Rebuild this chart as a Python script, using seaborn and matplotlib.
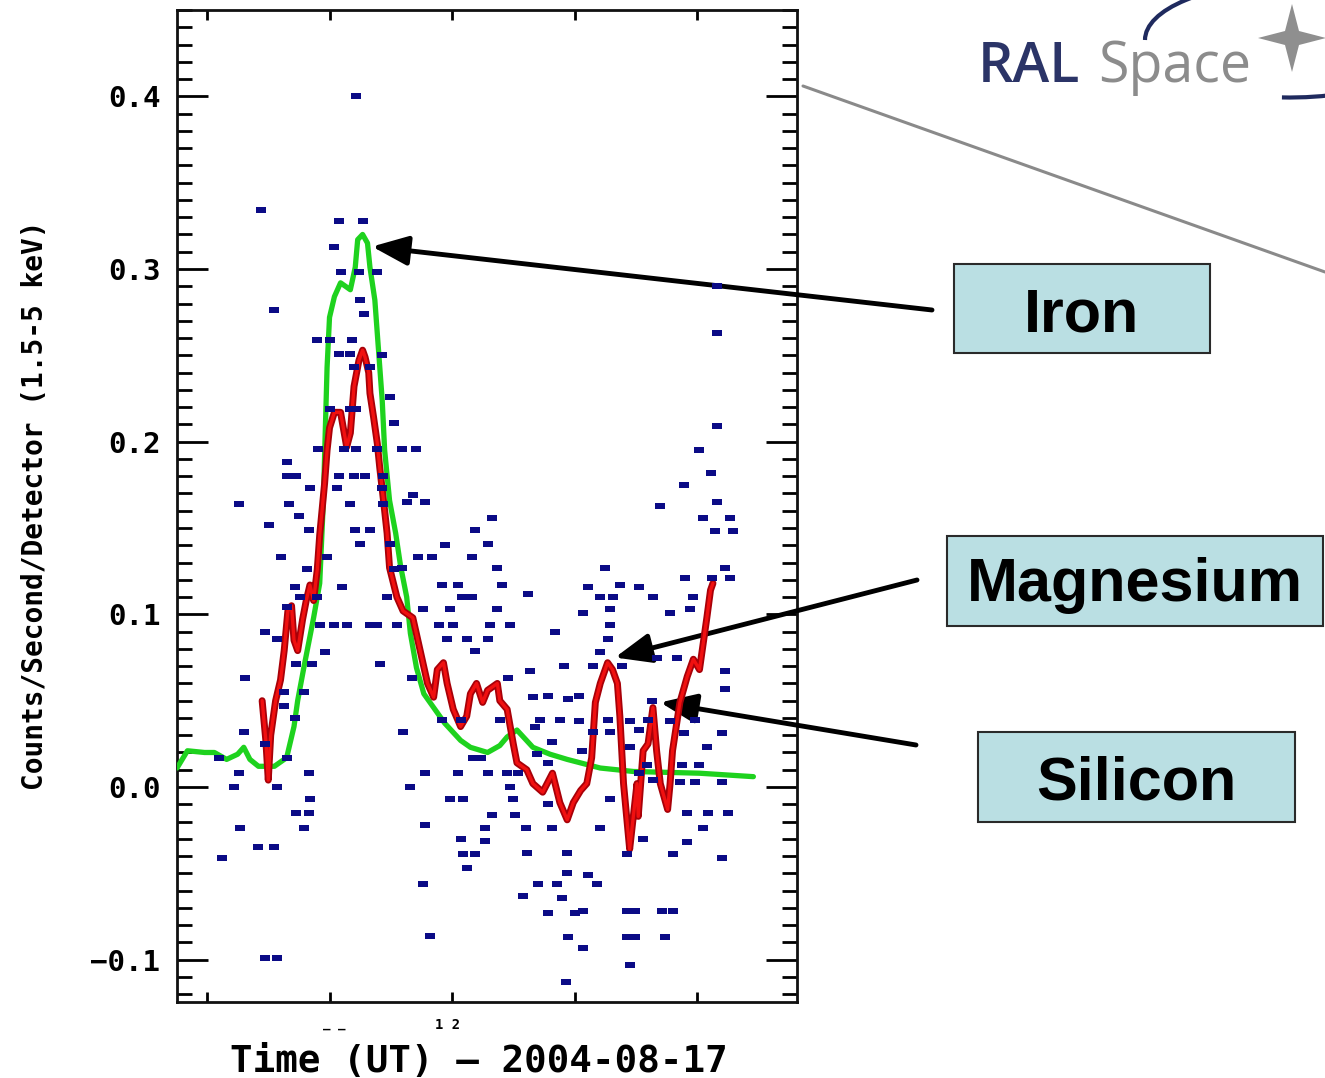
import matplotlib
matplotlib.use('Agg')
import matplotlib.pyplot as plt
import seaborn as sns
from matplotlib.patches import Rectangle, Arc, Polygon
from matplotlib.lines import Line2D
from matplotlib.ticker import MultipleLocator, FixedLocator, FixedFormatter
from matplotlib.transforms import IdentityTransform

# green curve (Iron), hours UT vs counts/s/detector
green_t = [9.755, 9.84, 9.98, 10.06, 10.16, 10.25, 10.30, 10.35, 10.42, 10.55,
           10.65, 10.71, 10.74, 10.79, 10.87, 10.92, 10.95, 10.965, 10.98, 11.00,
           11.04, 11.09, 11.13, 11.17, 11.21, 11.23, 11.27, 11.31, 11.33, 11.37,
           11.40, 11.43, 11.45, 11.49, 11.54, 11.58, 11.63, 11.66, 11.71, 11.77,
           11.94, 12.07, 12.15, 12.29, 12.39, 12.45, 12.53, 12.66, 12.80, 12.94,
           13.21, 13.48, 14.02, 14.46]
green_rate = [0.011, 0.021, 0.020, 0.020, 0.016, 0.019, 0.023, 0.016, 0.012, 0.012,
              0.017, 0.035, 0.050, 0.069, 0.098, 0.118, 0.166, 0.205, 0.243, 0.272,
              0.284, 0.292, 0.290, 0.288, 0.301, 0.317, 0.320, 0.315, 0.301, 0.282,
              0.253, 0.224, 0.195, 0.166, 0.147, 0.128, 0.110, 0.089, 0.069, 0.054,
              0.037, 0.027, 0.023, 0.020, 0.024, 0.029, 0.033, 0.023, 0.019, 0.016,
              0.011, 0.009, 0.008, 0.006]

# red curve
red_t = [10.45, 10.48, 10.50, 10.52, 10.56, 10.60, 10.63, 10.66, 10.69, 10.71,
         10.74, 10.78, 10.81, 10.84, 10.87, 10.90, 10.92, 10.96, 10.98, 11.00,
         11.04, 11.09, 11.12, 11.14, 11.17, 11.20, 11.24, 11.27, 11.29, 11.32,
         11.33, 11.36, 11.39, 11.41, 11.45, 11.47, 11.49, 11.55, 11.60, 11.68,
         11.74, 11.80, 11.85, 11.88, 11.93, 11.96, 12.01, 12.07, 12.12, 12.15,
         12.20, 12.25, 12.29, 12.37, 12.39, 12.45, 12.50, 12.53, 12.61, 12.66,
         12.74, 12.82, 12.88, 12.94, 12.99, 13.05, 13.10, 13.14, 13.17, 13.21,
         13.27, 13.31, 13.35, 13.37, 13.40, 13.45, 13.48, 13.51, 13.52, 13.56,
         13.60, 13.64, 13.67, 13.70, 13.76, 13.78, 13.80, 13.86, 13.92, 13.97,
         14.02, 14.05, 14.08, 14.11, 14.13]
red_rate = [0.050, 0.027, 0.004, 0.030, 0.050, 0.062, 0.079, 0.102, 0.105, 0.085,
            0.079, 0.097, 0.108, 0.117, 0.108, 0.126, 0.146, 0.176, 0.195, 0.208,
            0.217, 0.217, 0.205, 0.197, 0.205, 0.232, 0.247, 0.253, 0.249, 0.240,
            0.228, 0.214, 0.199, 0.185, 0.160, 0.147, 0.127, 0.110, 0.102, 0.098,
            0.079, 0.060, 0.052, 0.068, 0.072, 0.060, 0.045, 0.035, 0.041, 0.054,
            0.060, 0.049, 0.056, 0.060, 0.050, 0.045, 0.025, 0.014, 0.010, 0.002,
            -0.003, 0.008, -0.009, -0.019, -0.009, -0.002, 0.002, 0.017, 0.049, 0.060,
            0.072, 0.068, 0.060, 0.041, 0.002, -0.036, -0.017, 0.002, -0.017, 0.021,
            0.025, 0.046, 0.021, 0.002, -0.013, 0.002, 0.021, 0.049, 0.064, 0.074,
            0.068, 0.083, 0.098, 0.114, 0.118]

# blue points
blue_t = [11.22, 10.44, 11.08, 11.27, 11.04, 11.09, 11.24, 11.39, 10.55, 11.25,
          11.28, 10.90, 11.00, 11.18, 11.08, 11.17, 11.43, 11.20, 11.33, 11.49,
          11.00, 11.17, 11.22, 11.53, 10.91, 11.12, 11.22, 11.39, 11.59, 11.71,
          10.65, 10.65, 10.73, 11.08, 11.20, 11.29, 11.44, 10.84, 11.06, 11.43,
          10.26, 10.67, 11.17, 11.44, 10.75, 10.51, 10.83, 11.21, 11.33, 11.25,
          11.49, 10.60, 10.98, 10.82, 11.53, 10.72, 11.10, 10.76, 10.90, 11.47,
          14.16, 14.16, 14.16, 14.02,
          10.65, 10.92, 11.04, 11.14, 11.33, 11.39, 11.55, 10.47, 10.57, 10.96,
          10.73, 10.86, 11.41, 10.31, 10.63, 10.79, 10.63, 10.72, 10.30, 10.47,
          10.65, 10.10, 10.26, 10.83, 10.22, 10.57, 10.84, 10.73, 10.83, 10.27,
          10.79, 10.42, 10.55, 10.12, 10.47, 10.57,
          14.11, 13.89, 11.68, 11.78, 11.63, 13.70, 14.16, 12.33, 14.05, 14.27,
          12.19, 14.15, 14.29, 11.94, 12.29, 11.72, 11.84, 12.16, 11.59, 12.37,
          13.25, 14.23, 11.92, 12.05, 12.41, 13.11, 13.37, 13.53, 13.90, 14.12,
          14.27, 12.62, 12.08, 12.16, 13.21, 13.31, 13.64, 13.97, 11.76, 11.98,
          12.37, 13.29, 13.94, 13.07, 13.78, 11.89, 12.01, 12.31, 12.47, 13.29,
          12.84, 11.96, 12.12, 12.29, 13.27, 12.19, 13.21, 13.67, 13.84, 12.91,
          13.15, 13.39, 14.23, 11.67, 12.46, 12.64, 14.23, 12.66, 12.78, 12.95,
          13.04, 13.63, 11.92, 12.07, 12.39, 12.72, 12.88, 13.04, 13.27, 13.45,
          13.60, 13.78, 13.98, 11.60, 12.68, 13.15, 13.29, 13.53, 13.89, 14.20,
          12.82, 13.06, 13.45, 14.08, 12.69, 12.78, 12.17, 12.24, 13.59, 13.88,
          14.02, 11.78, 12.05, 12.29, 12.45, 12.54, 13.53, 13.98, 14.20, 13.86,
          13.64, 11.66, 12.47, 11.98, 12.09, 12.50, 13.29, 12.78, 13.92, 14.09,
          14.25, 12.33, 12.51, 11.78, 12.27, 12.60, 12.82, 13.21, 14.05, 12.07,
          12.27, 13.56, 13.92, 12.09, 12.19, 13.43, 13.80, 14.20, 12.61, 12.94,
          12.12, 12.94, 13.11, 12.70, 12.86, 13.18, 11.76, 12.58, 12.90, 12.78,
          13.00, 13.07, 13.43, 13.49, 13.71, 13.80, 11.82, 12.95, 13.43, 13.49,
          13.74, 13.07, 13.45, 12.93]
blue_rate = [0.400, 0.334, 0.328, 0.328, 0.313, 0.298, 0.298, 0.298, 0.276, 0.282,
             0.274, 0.259, 0.259, 0.259, 0.251, 0.251, 0.250, 0.243, 0.243, 0.226,
             0.219, 0.219, 0.219, 0.211, 0.196, 0.196, 0.196, 0.196, 0.196, 0.196,
             0.188, 0.180, 0.180, 0.180, 0.180, 0.180, 0.180, 0.173, 0.173, 0.173,
             0.164, 0.164, 0.164, 0.164, 0.157, 0.152, 0.149, 0.149, 0.149, 0.141,
             0.141, 0.133, 0.133, 0.126, 0.126, 0.116, 0.116, 0.110, 0.110, 0.110,
             0.290, 0.263, 0.209, 0.195,
             0.104, 0.094, 0.094, 0.094, 0.094, 0.094, 0.094, 0.090, 0.086, 0.078,
             0.071, 0.071, 0.071, 0.063, 0.055, 0.055, 0.047, 0.040, 0.032, 0.025,
             0.017, 0.017, 0.008, 0.008, 0.000, 0.000, -0.007, -0.015, -0.015, -0.024,
             -0.024, -0.035, -0.035, -0.041, -0.099, -0.099,
             0.182, 0.175, 0.169, 0.165, 0.165, 0.163, 0.165, 0.156, 0.156, 0.156,
             0.149, 0.148, 0.148, 0.140, 0.141, 0.133, 0.133, 0.133, 0.127, 0.127,
             0.127, 0.127, 0.117, 0.117, 0.117, 0.116, 0.117, 0.116, 0.121, 0.121,
             0.121, 0.112, 0.110, 0.110, 0.110, 0.110, 0.110, 0.110, 0.103, 0.103,
             0.103, 0.103, 0.103, 0.101, 0.101, 0.094, 0.094, 0.094, 0.094, 0.094,
             0.090, 0.086, 0.086, 0.086, 0.086, 0.079, 0.078, 0.075, 0.075, 0.070,
             0.070, 0.070, 0.067, 0.063, 0.063, 0.067, 0.057, 0.052, 0.053, 0.051,
             0.053, 0.050, 0.039, 0.039, 0.039, 0.039, 0.039, 0.038, 0.039, 0.038,
             0.039, 0.038, 0.039, 0.032, 0.035, 0.032, 0.032, 0.033, 0.031, 0.031,
             0.026, 0.021, 0.023, 0.023, 0.019, 0.014, 0.017, 0.017, 0.013, 0.013,
             0.013, 0.008, 0.008, 0.008, 0.008, 0.008, 0.008, 0.003, 0.003, 0.003,
             0.004, 0.000, 0.000, -0.007, -0.007, -0.007, -0.007, -0.010, -0.015, -0.015,
             -0.015, -0.016, -0.016, -0.022, -0.024, -0.024, -0.024, -0.024, -0.024, -0.030,
             -0.031, -0.030, -0.032, -0.039, -0.039, -0.039, -0.039, -0.041, -0.038, -0.038,
             -0.047, -0.050, -0.051, -0.056, -0.056, -0.056, -0.056, -0.063, -0.064, -0.073,
             -0.073, -0.072, -0.072, -0.072, -0.072, -0.072, -0.086, -0.087, -0.087, -0.087,
             -0.087, -0.093, -0.103, -0.113]

ytick_vals = [-0.1, 0.0, 0.1, 0.2, 0.3, 0.4]
ytick_labels = ['\u22120.1', '0.0', '0.1', '0.2', '0.3', '0.4']
xtick_vals = [10, 11, 12, 13, 14]

# label boxes: text, arrow tip (data)
labels = ['Iron', 'Magnesium', 'Silicon']
label_tips = [(11.347, 0.313), (13.33, 0.075), (13.70, 0.049)]

W, H = 1325, 1078


def fx(x):
    return x / W


def fy(y):
    return 1 - y / H


sns.set_style('ticks')
plt.rcParams['font.family'] = ['DejaVu Sans']
plt.rcParams['text.color'] = 'black'
plt.rcParams['ytick.color'] = 'black'
plt.rcParams['xtick.color'] = 'black'

fig = plt.figure(figsize=(W / 100, H / 100), dpi=100)
fig.patch.set_facecolor('white')
ax = fig.add_axes([fx(177), fy(1002), fx(620), 992 / H])

sns.scatterplot(x=blue_t, y=blue_rate, ax=ax, color='#0b0b86',
                marker=[(-1, -0.6), (1, -0.6), (1, 0.6), (-1, 0.6)],
                s=62, linewidth=0, zorder=5, legend=False)
sns.lineplot(x=green_t, y=green_rate, ax=ax, color='#1ed21e', lw=3.8,
             sort=False, estimator=None, zorder=3)
sns.lineplot(x=red_t, y=red_rate, ax=ax, color='#a80008', lw=5.0,
             sort=False, estimator=None, zorder=4)
sns.lineplot(x=red_t, y=red_rate, ax=ax, color='#f01010', lw=2.4,
             sort=False, estimator=None, zorder=4)

ax.set_xlim(9.755, 14.816)
ax.set_ylim(-0.1245, 0.45)
ax.xaxis.set_major_locator(FixedLocator(xtick_vals))
ax.yaxis.set_major_locator(FixedLocator(ytick_vals))
ax.yaxis.set_major_formatter(FixedFormatter(ytick_labels))
ax.yaxis.set_minor_locator(MultipleLocator(0.01))
ax.tick_params(axis='y', which='major', direction='in', length=22, width=2,
               left=True, right=True, labelsize=21, pad=12, labelcolor='black')
ax.tick_params(axis='y', which='minor', direction='in', length=11, width=2,
               left=True, right=True)
ax.tick_params(axis='x', which='major', direction='in', length=7, width=2,
               top=True, bottom=True, labelbottom=False)
for lab in ax.get_yticklabels():
    lab.set_fontfamily('DejaVu Sans Mono')
    lab.set_fontweight('bold')
for sp in ax.spines.values():
    sp.set_linewidth(2)
    sp.set_color('#111111')
ax.set_xlabel('')
ax.set_ylabel('')

# axis titles
fig.text(fx(35), fy(505), 'Counts/Second/Detector (1.5-5 keV)', rotation=90,
         ha='center', va='center', fontsize=20, fontweight='bold',
         family='DejaVu Sans Mono', color='black')
fig.text(fx(479), fy(1062), 'Time (UT) \u2014 2004-08-17', ha='center',
         va='center', fontsize=27, fontweight='bold', family='DejaVu Sans Mono',
         color='black')
fig.text(fx(334), fy(1024), '_ _', ha='center', va='center', fontsize=9,
         fontweight='bold', family='DejaVu Sans Mono', color='black')
fig.text(fx(448), fy(1025), '1 2', ha='center', va='center', fontsize=10,
         fontweight='bold', family='DejaVu Sans Mono', color='black')

# slide decoration: grey line and logo
fig.add_artist(Line2D([fx(803), fx(1325)], [fy(86), fy(272)],
                      transform=fig.transFigure, color='#8a8a8a', lw=2.2))
fig.text(fx(978), fy(82), 'RAL', ha='left', va='baseline', fontsize=40,
         fontweight='semibold', family='Open Sans', color='#2b3467')
fig.text(fx(1098), fy(82), 'Space', ha='left', va='baseline', fontsize=40,
         family='Open Sans', color='#8c8c8c')
fig.add_artist(Arc((1290, H - 40), 290, 115, angle=0, theta1=95, theta2=180,
                   transform=IdentityTransform(), color='#1f2a5e', lw=3))
fig.add_artist(Arc((1290, H - 40), 290, 115, angle=0, theta1=262, theta2=340,
                   transform=IdentityTransform(), color='#1f2a5e', lw=3))
cx, cy, ro, ri = 1292, H - 38, 34, 7
star = [(cx, cy + ro), (cx + ri, cy + ri), (cx + ro, cy), (cx + ri, cy - ri),
        (cx, cy - ro), (cx - ri, cy - ri), (cx - ro, cy), (cx - ri, cy + ri)]
fig.add_artist(Polygon(star, closed=True, transform=IdentityTransform(),
                       facecolor='#8f8f8f', edgecolor='none'))

# label boxes and arrows
boxes = [(954, 264, 1210, 353), (947, 536, 1323, 626), (978, 732, 1295, 822)]
baselines = [332, 601, 800]
tails = [(932, 310), (917, 580), (916, 745)]
for name, (x0, y0, x1, y1), base, tail, tip in zip(labels, boxes, baselines,
                                                   tails, label_tips):
    fig.add_artist(Rectangle((fx(x0), fy(y1)), fx(x1 - x0), (y1 - y0) / H,
                             transform=fig.transFigure, facecolor='#badfe3',
                             edgecolor='#2a2a2a', lw=1.5))
    fig.text(fx((x0 + x1) / 2), fy(base), name, ha='center', va='baseline',
             fontsize=44, fontweight='bold', family='Liberation Sans',
             color='black')
    ax.annotate('', xy=tip, xycoords='data',
                xytext=(tail[0], H - tail[1]), textcoords='figure pixels',
                annotation_clip=False,
                arrowprops=dict(arrowstyle='-|>,head_length=2.2,head_width=0.9',
                                mutation_scale=10, lw=3.5, color='black',
                                shrinkA=0, shrinkB=0))

fig.savefig('out.png', dpi=100, facecolor='white')
